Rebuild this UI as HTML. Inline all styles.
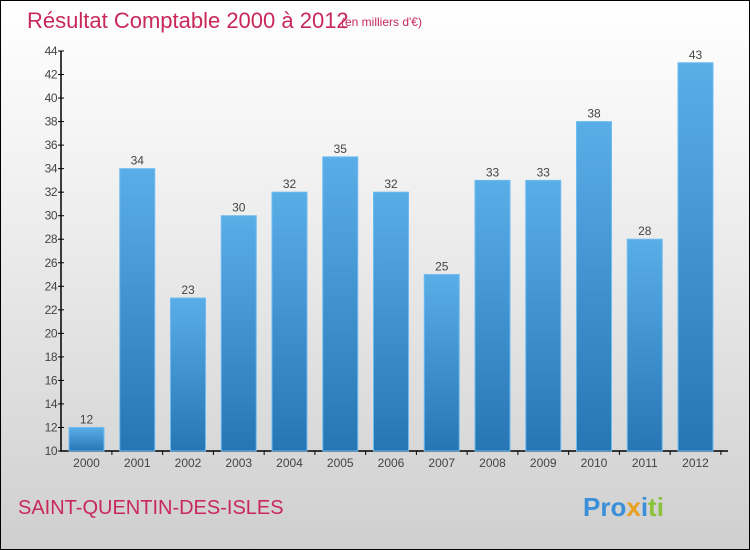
<!DOCTYPE html>
<html><head><meta charset="utf-8"><style>
body{margin:0}
#c{width:748px;height:548px;border:1px solid #000;position:relative;background:linear-gradient(#fff,#f2f2f2 30%,#cfcfcf);font-family:"Liberation Sans",sans-serif;overflow:hidden}
</style></head><body>
<div id="c">
<svg width="748" height="548">
<defs><linearGradient id="bg" x1="0" y1="0" x2="0" y2="1"><stop offset="0" stop-color="#5aaee8"/><stop offset="1" stop-color="#2676b4"/></linearGradient></defs>
<text x="26" y="27" font-size="22" fill="#c8285a">Résultat Comptable 2000 à 2012</text>
<text x="340" y="25" font-size="12" fill="#c8285a">(en milliers d'€)</text>
<g id="plot"></g>
<text x="17" y="513" font-size="20" fill="#c8285a">SAINT-QUENTIN-DES-ISLES</text>
<text x="582" y="515" font-size="26" font-weight="bold"><tspan fill="#3a8fd8">Pro</tspan><tspan fill="#e8a020">x</tspan><tspan fill="#3a8fd8">i</tspan><tspan fill="#8bc23c">ti</tspan></text>
</svg></div>
<script>
const years=["2000","2001","2002","2003","2004","2005","2006","2007","2008","2009","2010","2011","2012"];
const values=[12,34,23,30,32,35,32,25,33,33,38,28,43];
const ticks=[10,12,14,16,18,20,22,24,26,28,30,32,34,36,38,40,42,44];
const NS="http://www.w3.org/2000/svg";
const g=document.getElementById('plot');
const y=v=>450-(v-10)*400/34;
const x=i=>85.5+i*50.75;
function mk(t,a,txt){const e=document.createElementNS(NS,t);for(const k in a)e.setAttribute(k,a[k]);if(txt!=null)e.textContent=txt;g.appendChild(e);return e;}
const ax=mk('path',{d:'M60 50V450H727',stroke:'#000',fill:'none','stroke-width':1.5});


ticks.forEach(t=>{
 const l=mk('line',{x1:57,x2:63,y1:y(t),y2:y(t),stroke:'#000'});
 
 
 const tx=mk('text',{x:56,y:y(t)+4,'font-size':12,fill:'#444','text-anchor':'end','letter-spacing':'-0.5'},t);
 
 
});
values.forEach((v,i)=>{
 const r=mk('rect',{x:x(i)-17.5,y:y(v),width:35,height:450-y(v),fill:'url(#bg)',stroke:'#6cbcf0','stroke-width':1});
 
 
 const vl=mk('text',{x:x(i),y:y(v)-4,'font-size':12,fill:'#444','text-anchor':'middle'},v);
 
 
 const xl=mk('text',{x:x(i),y:466,'font-size':12,fill:'#444','text-anchor':'middle'},years[i]);
 
 
 const tk=mk('line',{x1:x(i)+25.4,x2:x(i)+25.4,y1:450,y2:454,stroke:'#000'});
 
 
});
</script>
</body></html>
